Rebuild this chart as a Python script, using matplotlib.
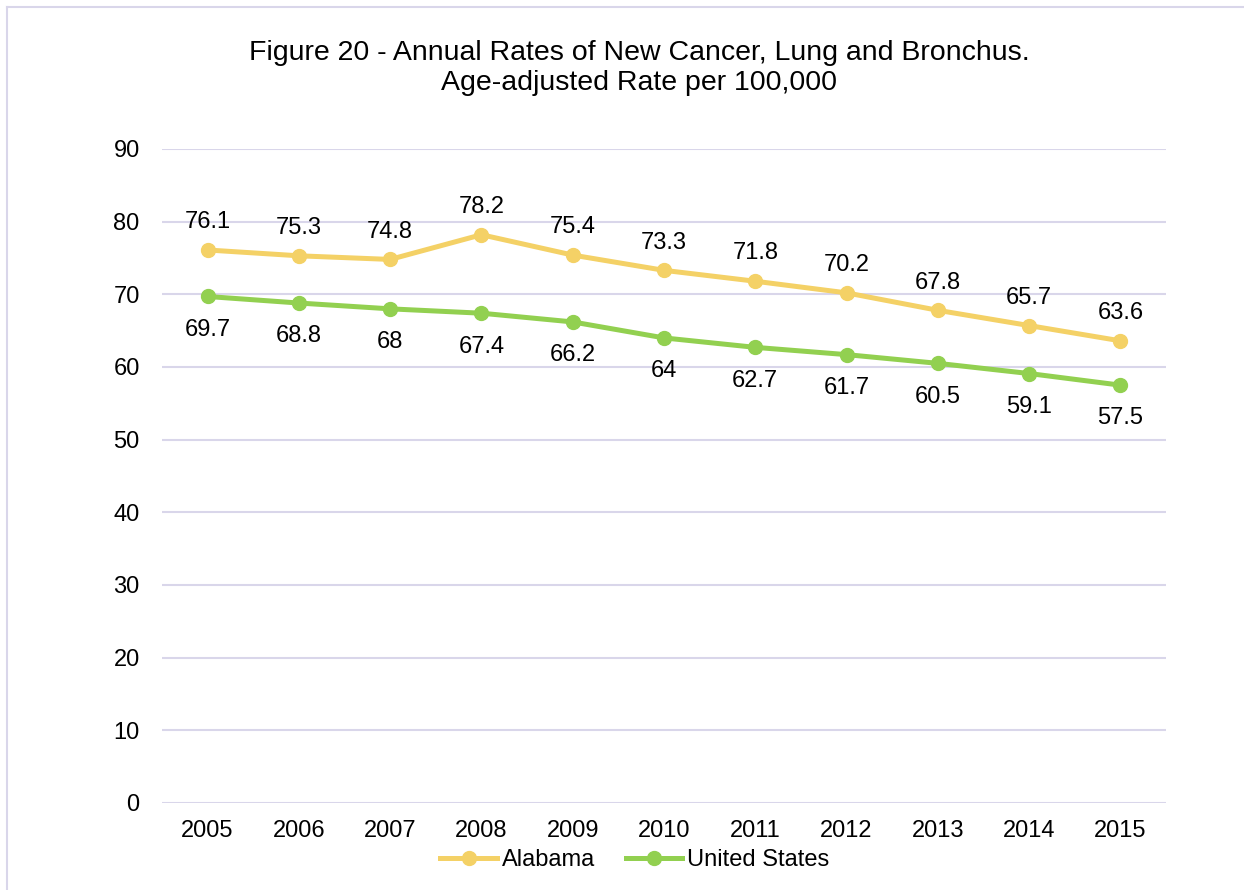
import matplotlib.pyplot as plt
import numpy as np

plt.rcParams["font.family"] = ["Liberation Sans", "DejaVu Sans"]

YEARS = ["2005", "2006", "2007", "2008", "2009", "2010", "2011", "2012", "2013", "2014", "2015"]
ALABAMA = [76.1, 75.3, 74.8, 78.2, 75.4, 73.3, 71.8, 70.2, 67.8, 65.7, 63.6]
US = [69.7, 68.8, 68, 67.4, 66.2, 64, 62.7, 61.7, 60.5, 59.1, 57.5]
US_LABELS = ["69.7", "68.8", "68", "67.4", "66.2", "64", "62.7", "61.7", "60.5", "59.1", "57.5"]

YELLOW = "#F4D166"
GREEN = "#92D050"
GRID = "#D9D6EA"

fig = plt.figure(figsize=(12.44, 8.9), dpi=100)
ax = fig.add_axes([0.1302, 0.0978, 0.8071, 0.7348])

x = np.arange(len(YEARS))
ax.plot(x, ALABAMA, color=YELLOW, lw=3.6, marker="o", ms=10, label="Alabama", zorder=3)
ax.plot(x, US, color=GREEN, lw=3.6, marker="o", ms=10, label="United States", zorder=3)

for i in x:
    ax.annotate(f"{ALABAMA[i]}", (i, ALABAMA[i]), xytext=(0, 20), textcoords="offset points",
                ha="center", va="center", fontsize=17)
    ax.annotate(US_LABELS[i], (i, US[i]), xytext=(0, -24), textcoords="offset points",
                ha="center", va="center", fontsize=17)

ax.set_xlim(-0.5, len(YEARS) - 0.5)
ax.set_ylim(0, 90)
ax.set_yticks(range(0, 91, 10))
ax.set_xticks(x, YEARS)
ax.tick_params(length=0, labelsize=17, pad=12)
ax.tick_params(axis="y", pad=16)
ax.grid(axis="y", color=GRID, lw=1.5)
ax.set_axisbelow(True)
for s in ax.spines.values():
    s.set_visible(False)

fig.suptitle("Figure 20 - Annual Rates of New Cancer, Lung and Bronchus.\nAge-adjusted Rate per 100,000",
             x=0.514, y=0.955, fontsize=20.5, linespacing=1.2)

ax.legend(loc="center", bbox_to_anchor=(0.471, -0.087), ncol=2, frameon=False, fontsize=17,
          handlelength=2.4, columnspacing=1.3, handletextpad=0.2)

# light border round the figure
fig.add_artist(plt.Line2D([0.006, 0.006], [0.0, 0.992], color=GRID, lw=1.5, transform=fig.transFigure))
fig.add_artist(plt.Line2D([0.006, 1.0], [0.992, 0.992], color=GRID, lw=1.5, transform=fig.transFigure))

fig.savefig("out.png", dpi=100)
